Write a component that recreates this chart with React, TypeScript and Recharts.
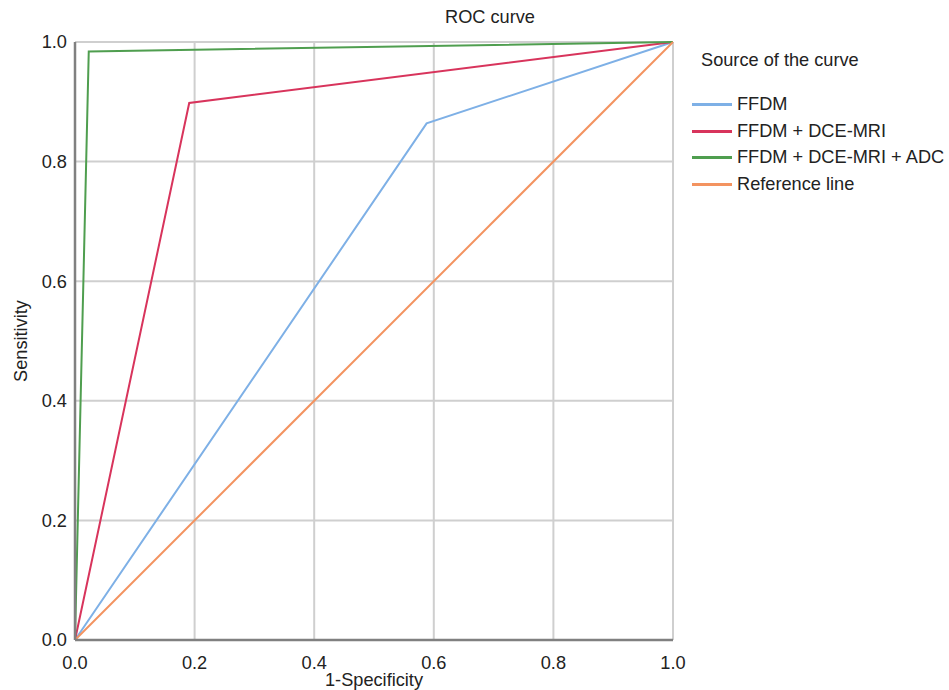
import React from "react";
import { LineChart, Line, XAxis, YAxis, CartesianGrid, Legend } from "recharts";

const seriesNames = ["FFDM", "FFDM + DCE-MRI", "FFDM + DCE-MRI + ADC", "Reference line"];
const seriesColors = ["#7eb0e6", "#d8345c", "#4f9e4f", "#f39360"];
const ffdmX = [0, 0.588, 1];
const ffdmY = [0, 0.864, 1];
const dceX = [0, 0.191, 1];
const dceY = [0, 0.898, 1];
const adcX = [0, 0.023, 1];
const adcY = [0, 0.984, 1];
const refX = [0, 1];
const refY = [0, 1];
const ticks = [0, 0.2, 0.4, 0.6, 0.8, 1.0];

const toPts = (xs: number[], ys: number[]) => xs.map((x, i) => ({ x, y: ys[i] }));
const seriesData = [toPts(ffdmX, ffdmY), toPts(dceX, dceY), toPts(adcX, adcY), toPts(refX, refY)];

const FONT = "'Liberation Sans', Arial, Helvetica, sans-serif";
const FS = 18.2;

const LegendContent = () => (
  <div style={{ fontFamily: FONT, fontSize: FS, color: "#222" }}>
    <div style={{ marginLeft: 11, height: 22, lineHeight: "22px" }}>Source of the curve</div>
    <div style={{ height: 20 }} />
    {seriesNames.map((n, i) => (
      <div key={n} style={{ display: "flex", alignItems: "center", height: 26.8, whiteSpace: "nowrap" }}>
        <div style={{ width: 40, height: 3, background: seriesColors[i], marginLeft: 2, marginRight: 5, flexShrink: 0 }} />
        <span>{n}</span>
      </div>
    ))}
  </div>
);

export default function App() {
  return (
    <div style={{ position: "absolute", left: 0, top: 0, width: 949, height: 690, background: "#fff", overflow: "hidden" }}>
      <div style={{ position: "absolute", left: 0, top: 7, width: 980, textAlign: "center", fontFamily: FONT, fontSize: FS, color: "#222" }}>
        ROC curve
      </div>
      <LineChart width={949} height={690} margin={{ top: 42, right: 276, bottom: 10, left: 15 }}>
        <CartesianGrid stroke="#cfcfcf" strokeWidth={2} horizontalValues={ticks} verticalValues={ticks} />
        <XAxis
          type="number"
          dataKey="x"
          domain={[0, 1]}
          ticks={ticks}
          tickFormatter={(v: number) => v.toFixed(1)}
          tickLine={false}
          tickMargin={10}
          height={40}
          stroke="#808080"
          strokeWidth={2.5}
          tick={{ fill: "#222", fontSize: FS, fontFamily: FONT }}
          label={{ value: "1-Specificity", position: "insideBottom", offset: -6, fill: "#222", fontSize: FS, fontFamily: FONT }}
        />
        <YAxis
          type="number"
          dataKey="y"
          domain={[0, 1]}
          ticks={ticks}
          tickFormatter={(v: number) => v.toFixed(1)}
          tickLine={false}
          width={60}
          stroke="#808080"
          strokeWidth={2.5}
          tick={{ fill: "#222", fontSize: FS, fontFamily: FONT }}
          label={{ value: "Sensitivity", angle: -90, position: "insideLeft", offset: 6, fill: "#222", fontSize: FS, fontFamily: FONT, style: { textAnchor: "middle" } }}
        />
        <Legend
          layout="vertical"
          align="center"
          verticalAlign="middle"
          wrapperStyle={{ left: 690, top: 49, width: 259 }}
          content={() => <LegendContent />}
        />
        {seriesData.map((d, i) => (
          <Line
            key={seriesNames[i]}
            data={d}
            dataKey="y"
            name={seriesNames[i]}
            type="linear"
            stroke={seriesColors[i]}
            strokeWidth={2}
            dot={false}
            activeDot={false}
            isAnimationActive={false}
          />
        ))}
      </LineChart>
    </div>
  );
}
